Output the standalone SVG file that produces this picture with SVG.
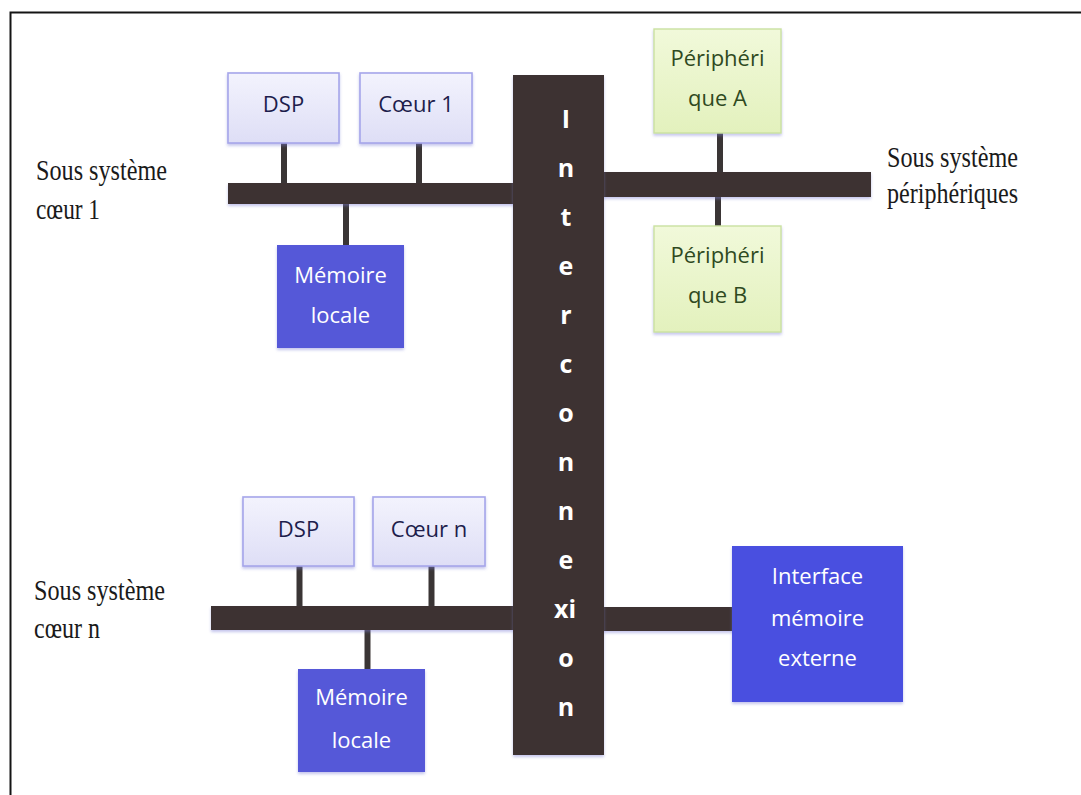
<svg xmlns="http://www.w3.org/2000/svg" width="1081" height="795" viewBox="0 0 1081 795">
  <defs>
    <linearGradient id="gLav" x1="0" y1="0" x2="0" y2="1">
      <stop offset="0" stop-color="#f3f3fd"/>
      <stop offset="1" stop-color="#dedef6"/>
    </linearGradient>
    <linearGradient id="gLime" x1="0" y1="0" x2="0" y2="1">
      <stop offset="0" stop-color="#f1f9da"/>
      <stop offset="1" stop-color="#e3f1bd"/>
    </linearGradient>
    <filter id="sh" x="-10%" y="-10%" width="120%" height="130%">
      <feDropShadow dx="0" dy="2" stdDeviation="1.6" flood-color="#7d7fd6" flood-opacity="0.45"/>
    </filter>
    <style>
      .bus { fill: #3d3333; filter: url(#sh); }
      .stub { stroke: #3a3535; stroke-width: 6; fill: none; }
      .lav { fill: url(#gLav); stroke: #a6a6ea; stroke-width: 1.6; filter: url(#sh); }
      .lime { fill: url(#gLime); stroke: #cbe2a0; stroke-width: 1.4; filter: url(#sh); }
      .mem { fill: #5459d8; filter: url(#sh); }
      .ext { fill: #4a50e0; filter: url(#sh); }
      .lbl { font-family: "Open Sans", "Liberation Sans", sans-serif; font-size: 22px; text-anchor: middle; }
      .navy { fill: #1d1d4c; }
      .olive { fill: #2f4a1f; }
      .white { fill: #ffffff; }
      .serif { font-family: "Liberation Serif", serif; font-size: 30px; fill: #1a1a1a; }
      .bar-txt { font-family: "Open Sans", "Liberation Sans", sans-serif; font-size: 25px; font-weight: bold; fill: #ffffff; text-anchor: middle; }
    </style>
  </defs>

  <rect width="1081" height="795" fill="#ffffff"/>

  <!-- page frame (left and top edges only) -->
  <path d="M10.5 795 V12.5 H1081" fill="none" stroke="#141414" stroke-width="2"/>

  <!-- buses and stubs -->
  <g id="connectors">
    <line class="stub" x1="284" y1="143" x2="284" y2="184"/>
    <line class="stub" x1="419" y1="143" x2="419" y2="184"/>
    <line class="stub" x1="346" y1="203" x2="346" y2="245"/>
    <line class="stub" x1="720" y1="133" x2="720" y2="173"/>
    <line class="stub" x1="718" y1="196" x2="718" y2="226"/>
    <line class="stub" x1="299.5" y1="566" x2="299.5" y2="607"/>
    <line class="stub" x1="431.5" y1="566" x2="431.5" y2="607"/>
    <line class="stub" x1="367.5" y1="629" x2="367.5" y2="669"/>
    <rect class="bus" x="228" y="183" width="287" height="21"/>
    <rect class="bus" x="602" y="172" width="269" height="25"/>
    <rect class="bus" x="211" y="606" width="304" height="24"/>
    <rect class="bus" x="602" y="607" width="132" height="24"/>
  </g>

  <!-- central interconnect bar -->
  <g id="interconnexion">
    <rect class="bus" x="513" y="75" width="91" height="680"/>
    <text class="bar-txt" x="566" y="128">I</text>
    <text class="bar-txt" x="566" y="177">n</text>
    <text class="bar-txt" x="566" y="226">t</text>
    <text class="bar-txt" x="566" y="275">e</text>
    <text class="bar-txt" x="566" y="324">r</text>
    <text class="bar-txt" x="566" y="373">c</text>
    <text class="bar-txt" x="566" y="422">o</text>
    <text class="bar-txt" x="566" y="471">n</text>
    <text class="bar-txt" x="566" y="520">n</text>
    <text class="bar-txt" x="566" y="569">e</text>
    <text class="bar-txt" x="565" y="618">xi</text>
    <text class="bar-txt" x="566" y="667">o</text>
    <text class="bar-txt" x="566" y="716">n</text>
  </g>

  <!-- core subsystem 1 -->
  <g id="dsp-1">
    <rect class="lav" x="228" y="73" width="111" height="70"/>
    <text class="lbl navy" x="283.5" y="112">DSP</text>
  </g>
  <g id="coeur-1">
    <rect class="lav" x="360" y="73" width="112" height="70"/>
    <text class="lbl navy" x="416" y="112">Cœur 1</text>
  </g>
  <g id="memoire-locale-1">
    <rect class="mem" x="277" y="245" width="127" height="103"/>
    <text class="lbl white" x="340.5" y="283">Mémoire</text>
    <text class="lbl white" x="340.5" y="323">locale</text>
  </g>
  <g id="label-coeur-1">
    <text class="serif" x="36" y="180" textLength="131" lengthAdjust="spacingAndGlyphs">Sous système</text>
    <text class="serif" x="36" y="219" textLength="64" lengthAdjust="spacingAndGlyphs">cœur 1</text>
  </g>

  <!-- peripheral subsystem -->
  <g id="peripherique-a">
    <rect class="lime" x="654" y="29" width="127" height="104"/>
    <text class="lbl olive" x="717.5" y="66">Périphéri</text>
    <text class="lbl olive" x="717.5" y="106">que A</text>
  </g>
  <g id="peripherique-b">
    <rect class="lime" x="654" y="226" width="127" height="106"/>
    <text class="lbl olive" x="717.5" y="263">Périphéri</text>
    <text class="lbl olive" x="717.5" y="303">que B</text>
  </g>
  <g id="label-peripheriques">
    <text class="serif" x="887" y="167" textLength="131" lengthAdjust="spacingAndGlyphs">Sous système</text>
    <text class="serif" x="887" y="203" textLength="131" lengthAdjust="spacingAndGlyphs">périphériques</text>
  </g>

  <!-- core subsystem n -->
  <g id="dsp-n">
    <rect class="lav" x="243" y="497" width="111" height="69"/>
    <text class="lbl navy" x="298.5" y="537">DSP</text>
  </g>
  <g id="coeur-n">
    <rect class="lav" x="373" y="497" width="112" height="69"/>
    <text class="lbl navy" x="429" y="537">Cœur n</text>
  </g>
  <g id="memoire-locale-n">
    <rect class="mem" x="298" y="669" width="127" height="103"/>
    <text class="lbl white" x="361.5" y="705">Mémoire</text>
    <text class="lbl white" x="361.5" y="748">locale</text>
  </g>
  <g id="label-coeur-n">
    <text class="serif" x="34" y="600" textLength="131" lengthAdjust="spacingAndGlyphs">Sous système</text>
    <text class="serif" x="34" y="638" textLength="66" lengthAdjust="spacingAndGlyphs">cœur n</text>
  </g>

  <!-- external memory interface -->
  <g id="interface-memoire-externe">
    <rect class="ext" x="732" y="546" width="171" height="156"/>
    <text class="lbl white" x="817.5" y="584">Interface</text>
    <text class="lbl white" x="817.5" y="626">mémoire</text>
    <text class="lbl white" x="817.5" y="666">externe</text>
  </g>
</svg>
